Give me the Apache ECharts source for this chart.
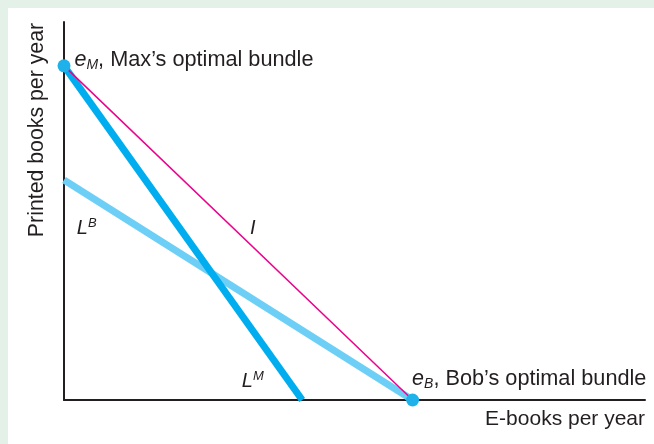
<!DOCTYPE html>
<html>
<head>
<meta charset="utf-8">
<script src="https://cdn.jsdelivr.net/npm/echarts@6/dist/echarts.min.js"></script>
<style>
html,body{margin:0;padding:0;background:#e3f1e8;}
#chart{position:absolute;left:8px;top:8px;width:646px;height:436px;background:#fff;}
</style>
</head>
<body>
<div id="chart"></div>
<script>
// budget line I and the two lines L^M, L^B
var lineI = [[0, 88.4], [60, 0]];
var lineM = [[0, 88.4], [41, 0]];
var lineB = [[0, 58.2], [60, 0]];
var bundles = [[0, 88.4], [60, 0]];

var myChart = echarts.init(document.getElementById('chart'));
var txt = '#231f20';
var font = 'Liberation Sans, Arial, sans-serif';

var rich = {
    e: {fontStyle: 'italic', fontSize: 21.5, color: txt, fontFamily: font},
    l: {fontStyle: 'italic', fontSize: 20, color: txt, fontFamily: font},
    sub: {fontStyle: 'italic', fontSize: 14, color: txt, fontFamily: font, padding: [11, 0, 0, 0]},
    sup: {fontStyle: 'italic', fontSize: 13, color: txt, fontFamily: font, padding: [0, 0, 10, 0]},
    t: {fontSize: 21.7, color: txt, fontFamily: font}
};

var option = {
    animation: false,
    grid: {left: 56, right: 9, top: 14, bottom: 44},
    xAxis: {
        type: 'value', min: 0, max: 100,
        axisLine: {lineStyle: {color: txt, width: 2}},
        axisTick: {show: false}, axisLabel: {show: false}, splitLine: {show: false},
        name: 'E-books per year', nameLocation: 'end', nameGap: 0,
        nameTextStyle: {align: 'right', verticalAlign: 'top', padding: [9, 0, 0, 0], fontSize: 21, color: txt, fontFamily: font}
    },
    yAxis: {
        type: 'value', min: 0, max: 100,
        axisLine: {lineStyle: {color: txt, width: 2}},
        axisTick: {show: false}, axisLabel: {show: false}, splitLine: {show: false},
        name: 'Printed books per year', nameLocation: 'middle', nameGap: 16,
        nameTextStyle: {padding: [0, 0, 0, 162], fontSize: 21.3, color: txt, fontFamily: font}
    },
    series: [
        {type: 'line', data: lineI, symbol: 'none', lineStyle: {color: '#ec008c', width: 1.5}, z: 3},
        {type: 'line', data: lineB, symbol: 'none', lineStyle: {color: '#6dcff6', width: 7}, z: 2},
        {type: 'line', data: lineM, symbol: 'none', lineStyle: {color: '#00aeef', width: 7}, z: 2},
        {
            type: 'scatter', symbolSize: 13, clip: false, z: 5,
            itemStyle: {color: '#1fb2ea', opacity: 1},
            data: [
                {value: bundles[0], label: {distance: 4, formatter: '{e|e}{sub|M}{t|, Max\u2019s optimal bundle}'}},
                {value: bundles[1], label: {distance: -7, formatter: '{e|e}{sub|B}{t|, Bob\u2019s optimal bundle}'}}
            ],
            label: {
                show: true, position: 'right', color: txt, opacity: 1, textBorderWidth: 0,
                fontSize: 21, fontFamily: font, rich: rich
            },
            labelLayout: function (p) {
                return p.dataIndex === 0 ? {dy: -6} : {dy: -21};
            }
        },
        {
            type: 'scatter', symbolSize: 0, silent: true, z: 6,
            data: [
                {value: [2.2, 45.5], label: {formatter: '{l|L}{sup|B}'}},
                {value: [32.0, 45.5], label: {formatter: '{l|I}'}},
                {value: [30.6, 5.0], label: {formatter: '{l|L}{sup|M}'}}
            ],
            label: {show: true, position: 'right', distance: 0, color: txt, opacity: 1, textBorderWidth: 0,
                    fontSize: 20, fontFamily: font, rich: rich}
        }
    ]
};
myChart.setOption(option);
window.addEventListener("resize", function () {
    myChart.resize();
});
</script>
</body>
</html>
